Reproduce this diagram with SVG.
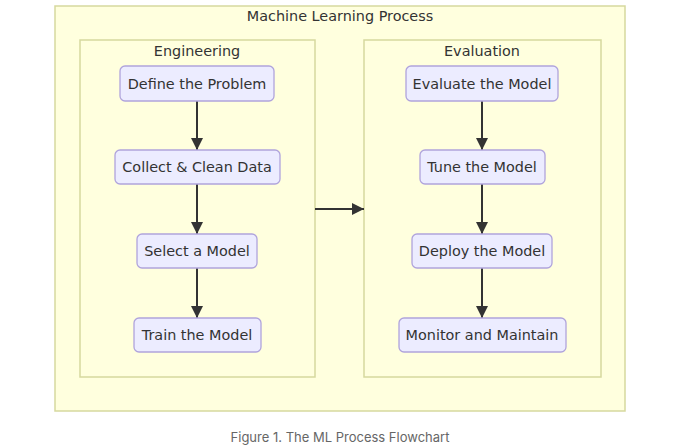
<svg xmlns="http://www.w3.org/2000/svg" width="680" height="448" viewBox="0 0 680 448">
<defs>
<style>
.cluster{fill:#ffffde;stroke:#d6d99e;stroke-width:1.5}
.node rect{fill:#ececff;stroke:#b0a4dc;stroke-width:1.3}
.lbl{font-family:"DejaVu Sans",sans-serif;font-size:14.4px;fill:#333;text-anchor:middle;dominant-baseline:central}
.edge{stroke:#333;stroke-width:2;fill:none;marker-end:url(#arr)}
.cap{font-family:Inter,"Liberation Sans",sans-serif;font-size:13px;fill:#666;text-anchor:middle}
</style>
<marker id="arr" viewBox="0 0 10 10" refX="10" refY="5" markerWidth="6" markerHeight="6" markerUnits="strokeWidth" orient="auto">
<path d="M0,0 L10,5 L0,10 z" fill="#333"/>
</marker>
</defs>
<rect width="680" height="448" fill="#fff"/>
<g id="ml-process">
<rect class="cluster" x="55" y="6" width="570" height="405"/>
<text class="lbl" x="340" y="16">Machine Learning Process</text>
</g>
<g id="engineering">
<rect class="cluster" x="80" y="40" width="235" height="337"/>
<text class="lbl" x="197" y="51">Engineering</text>
</g>
<g id="evaluation">
<rect class="cluster" x="364" y="40" width="237" height="337"/>
<text class="lbl" x="482" y="51">Evaluation</text>
</g>
<g id="edges">
<line class="edge" x1="197" y1="101" x2="197" y2="150"/>
<line class="edge" x1="197" y1="184" x2="197" y2="234"/>
<line class="edge" x1="197" y1="268" x2="197" y2="318"/>
<line class="edge" x1="482" y1="101" x2="482" y2="150"/>
<line class="edge" x1="482" y1="184" x2="482" y2="234"/>
<line class="edge" x1="482" y1="268" x2="482" y2="318"/>
<line class="edge" x1="315" y1="209" x2="364" y2="209"/>
</g>
<g id="define" class="node"><rect x="120" y="66" width="154" height="35" rx="5"/><text class="lbl" x="197" y="83.5">Define the Problem</text></g>
<g id="collect" class="node"><rect x="115" y="150" width="165" height="34" rx="5"/><text class="lbl" x="197" y="167">Collect &amp; Clean Data</text></g>
<g id="select" class="node"><rect x="137" y="234" width="120" height="34" rx="5"/><text class="lbl" x="197" y="251">Select a Model</text></g>
<g id="train" class="node"><rect x="134" y="318" width="127" height="34" rx="5"/><text class="lbl" x="197" y="335">Train the Model</text></g>
<g id="evaluate" class="node"><rect x="406" y="66" width="152" height="35" rx="5"/><text class="lbl" x="482" y="83.5">Evaluate the Model</text></g>
<g id="tune" class="node"><rect x="420" y="150" width="125" height="34" rx="5"/><text class="lbl" x="482" y="167">Tune the Model</text></g>
<g id="deploy" class="node"><rect x="412" y="234" width="140" height="34" rx="5"/><text class="lbl" x="482" y="251">Deploy the Model</text></g>
<g id="monitor" class="node"><rect x="399" y="318" width="167" height="34" rx="5"/><text class="lbl" x="482" y="335">Monitor and Maintain</text></g>
<text class="cap" x="340" y="442">Figure 1. The ML Process Flowchart</text>
</svg>
